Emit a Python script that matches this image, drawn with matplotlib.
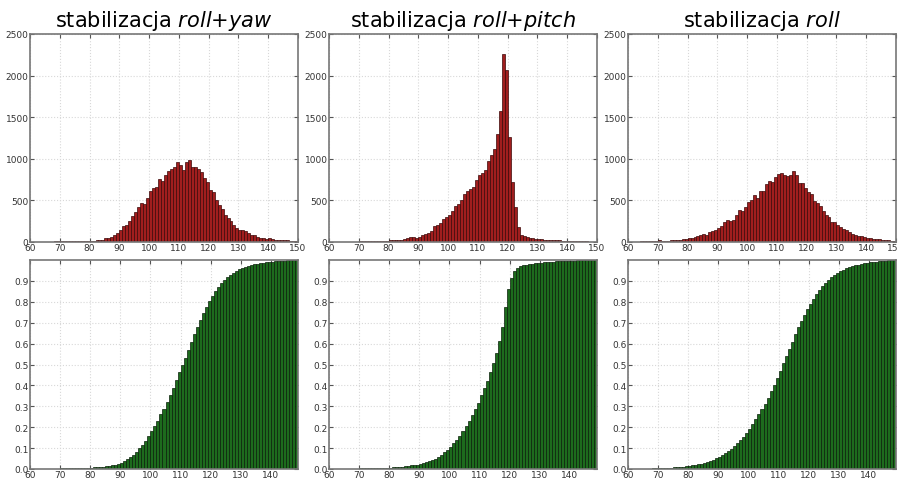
import numpy as np
import matplotlib
matplotlib.use("Agg")
import matplotlib.pyplot as plt

# bins of width 1 from 60 to 150
bin_start = 60
bin_stop = 150

# counts per bin (60..149)
roll_yaw = [5, 5, 5, 5, 5, 6, 6, 6, 7, 7,
            8, 8, 8, 9, 10, 10, 10, 12, 12, 14,
            15, 18, 25, 28, 30, 50, 52, 60, 80, 110,
            140, 190, 210, 250, 310, 360, 420, 470, 460, 530,
            610, 650, 660, 760, 730, 810, 850, 880, 900, 960,
            920, 870, 960, 990, 900, 900, 880, 840, 770, 720,
            620, 600, 500, 440, 400, 330, 290, 250, 210, 170,
            140, 150, 130, 110, 90, 80, 60, 50, 45, 40,
            45, 35, 30, 25, 30, 25, 20, 15, 15, 10]

roll_pitch = [4, 4, 4, 5, 5, 5, 6, 6, 6, 6,
              7, 7, 7, 8, 8, 8, 9, 10, 10, 12,
              20, 20, 25, 20, 30, 40, 50, 55, 60, 50,
              55, 80, 100, 110, 130, 190, 200, 230, 280, 300,
              330, 370, 430, 460, 500, 580, 610, 640, 660, 740,
              800, 830, 860, 970, 1050, 1120, 1300, 1570, 2260, 2070,
              1260, 720, 420, 180, 90, 70, 60, 50, 45, 40,
              35, 35, 30, 30, 25, 20, 20, 20, 15, 15,
              15, 15, 10, 10, 10, 8, 8, 6, 5, 5]

roll = [5, 5, 6, 6, 7, 7, 8, 8, 9, 10,
        20, 15, 10, 15, 20, 25, 30, 25, 40, 35,
        45, 50, 55, 70, 80, 100, 90, 120, 130, 150,
        170, 190, 240, 260, 250, 270, 330, 380, 370, 420,
        480, 510, 570, 530, 610, 610, 700, 730, 720, 780,
        820, 830, 810, 790, 800, 850, 810, 710, 710, 650,
        600, 580, 490, 470, 430, 370, 330, 300, 240, 240,
        200, 180, 160, 140, 120, 100, 80, 70, 70, 60,
        50, 45, 40, 40, 35, 30, 25, 20, 15, 10]

titles = ['stabilizacja $\\mathit{roll}$+$\\mathit{yaw}$',
          'stabilizacja $\\mathit{roll}$+$\\mathit{pitch}$',
          'stabilizacja $\\mathit{roll}$']
series = [roll_yaw, roll_pitch, roll]

plt.rcParams['mathtext.fontset'] = 'dejavusans'

edges = np.arange(bin_start, bin_stop + 1)
lefts = edges[:-1]

fig = plt.figure(figsize=(8.98, 4.81), dpi=100)
W, H = 898.0, 481.0
col_left = [30, 329, 628]
col_w = 268

def style(ax):
    ax.grid(True, color='#d8d8d8', linestyle=':', linewidth=0.8)
    ax.set_axisbelow(True)
    ax.tick_params(direction='in', top=True, right=True, labelsize=6.5,
                   labelcolor='#333333', length=3, pad=1, color='#555555')
    for s in ax.spines.values():
        s.set_color('#777777')
        s.set_linewidth(1.2)

for i in range(3):
    ax = fig.add_axes([col_left[i] / W, 1 - 243 / H, col_w / W, 208 / H])
    ax.hist(lefts, bins=edges, weights=series[i], color='#a01e1e',
            edgecolor='#3b0808', linewidth=0.5)
    ax.set_xlim(60, 150)
    ax.set_ylim(0, 2500)
    ax.set_xticks(range(60, 151, 10))
    ax.set_yticks(range(0, 2501, 500))
    style(ax)
    ax.set_title(titles[i], fontsize=15, pad=6)

    bx = fig.add_axes([col_left[i] / W, 1 - 470 / H, col_w / W, 209 / H])
    bx.hist(lefts, bins=edges, weights=series[i], cumulative=True, density=True,
            color='#1d6b1d', edgecolor='#0a200a', linewidth=0.5)
    bx.set_xlim(60, 149)
    bx.set_ylim(0, 1.0)
    bx.set_xticks(range(60, 141, 10))
    bx.set_yticks(np.arange(0, 0.95, 0.1))
    bx.set_yticklabels(['%.1f' % v for v in np.arange(0, 0.95, 0.1)])
    style(bx)

fig.savefig('out.png', dpi=100)
